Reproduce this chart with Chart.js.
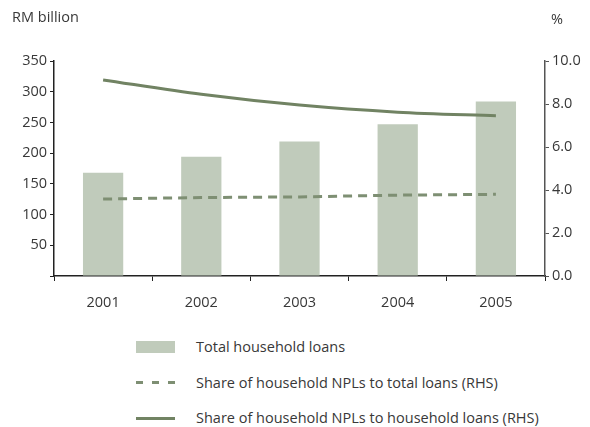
<!DOCTYPE html>
<html>
<head>
<meta charset="utf-8">
<script src="https://cdn.jsdelivr.net/npm/chart.js@4/dist/chart.umd.min.js"></script>
<style>
    body { margin: 0; background: #fff; font-family: 'Open Sans', sans-serif; color: #383838; }
    #wrap { position: relative; width: 590px; height: 427px; }
    #chartBox { position: absolute; left: 0; top: 0; width: 590px; height: 320px; }
    #legend { position: absolute; left: 136px; top: 329px; }
    .row { display: flex; align-items: center; height: 35.5px; font-size: 14.5px; }
    .sw { width: 39px; height: 12px; margin-right: 21px; position: relative; }
</style>
</head>
<body>
<div id="wrap">
    <div id="chartBox"><canvas id="chart"></canvas></div>
    <div id="legend"></div>
</div>
<script>
// Data
const years = ['2001', '2002', '2003', '2004', '2005'];
const householdLoans = [168, 194, 219, 247, 284];          // RM billion
const nplShareTotal = [3.58, 3.65, 3.68, 3.76, 3.80];      // % (RHS)
const nplShareHousehold = [9.12, 8.45, 7.95, 7.62, 7.45];  // % (RHS)

const barColor = '#c0cbbb';
const lineColor = '#718363';
const dashColor = '#7e8f73';
const textColor = '#383838';
const fontFamily = "'Open Sans', sans-serif";

const titlesPlugin = {
    id: 'titles',
    afterDraw(chart) {
        const c = chart.ctx;
        c.save();
        c.fillStyle = textColor;
        c.font = `14.5px ${fontFamily}`;
        c.textBaseline = 'middle';
        c.textAlign = 'left';
        c.fillText('RM billion', 12, 18);
        c.textAlign = 'center';
        c.fillText('%', 557, 20);
        c.restore();
    }
};

const chart = new Chart(document.getElementById('chart'), {
    data: {
        labels: years,
        datasets: [
            {
                type: 'line',
                label: 'Share of household NPLs to household loans (RHS)',
                data: nplShareHousehold,
                yAxisID: 'y1',
                borderColor: lineColor,
                borderWidth: 3,
                tension: 0.3,
                pointRadius: 0,
                order: 1
            },
            {
                type: 'line',
                label: 'Share of household NPLs to total loans (RHS)',
                data: nplShareTotal,
                yAxisID: 'y1',
                borderColor: dashColor,
                borderWidth: 3,
                borderDash: [9, 6],
                pointRadius: 0,
                order: 1
            },
            {
                type: 'bar',
                label: 'Total household loans',
                data: householdLoans,
                yAxisID: 'y',
                backgroundColor: barColor,
                barPercentage: 0.41,
                categoryPercentage: 1,
                order: 2
            }
        ]
    },
    options: {
        responsive: true,
        maintainAspectRatio: false,
        animation: false,
        layout: { padding: { top: 61, left: 0, right: 0, bottom: 0 } },
        plugins: {
            legend: { display: false },
            tooltip: { enabled: false }
        },
        scales: {
            x: {
                offset: true,
                grid: { display: true, drawOnChartArea: false, drawTicks: true, tickLength: 5, color: '#222', offset: true },
                border: { display: true, color: '#222', width: 1.5 },
                ticks: { color: textColor, font: { family: fontFamily, size: 14.5 }, padding: 13 },
                afterFit: (s) => { s.height = 44; }
            },
            y: {
                position: 'left',
                min: 0,
                max: 350,
                grid: { display: true, drawOnChartArea: false, drawTicks: true, tickLength: 4, color: '#222' },
                border: { display: true, color: '#222', width: 1.5 },
                ticks: {
                    stepSize: 50,
                    color: textColor,
                    font: { family: fontFamily, size: 14.5 },
                    padding: 3,
                    callback: (v) => v === 0 ? '' : v
                },
                afterFit: (s) => { s.width = 54; }
            },
            y1: {
                position: 'right',
                min: 0,
                max: 10,
                grid: { display: true, drawOnChartArea: false, drawTicks: true, tickLength: 4, color: '#555' },
                border: { display: true, color: '#555', width: 1.5 },
                ticks: {
                    stepSize: 2,
                    color: textColor,
                    font: { family: fontFamily, size: 14.5 },
                    padding: 3,
                    callback: (v) => v.toFixed(1)
                },
                afterFit: (s) => { s.width = 45; }
            }
        }
    },
    plugins: [titlesPlugin]
});

// HTML legend built from the datasets (bar first, then dashed, then solid)
const legendEl = document.getElementById('legend');
[2, 1, 0].forEach(i => {
    const ds = chart.data.datasets[i];
    const row = document.createElement('div');
    row.className = 'row';
    const sw = document.createElement('div');
    sw.className = 'sw';
    if (ds.type === 'bar') {
        sw.style.background = ds.backgroundColor;
    } else {
        const ln = document.createElement('div');
        ln.style.position = 'absolute';
        ln.style.left = '0';
        ln.style.right = '0';
        ln.style.top = '5px';
        ln.style.height = '3px';
        ln.style.background = ds.borderDash
            ? `repeating-linear-gradient(to right, ${ds.borderColor} 0 7px, transparent 7px 16px)`
            : ds.borderColor;
        sw.appendChild(ln);
    }
    const txt = document.createElement('span');
    txt.textContent = ds.label;
    row.appendChild(sw);
    row.appendChild(txt);
    legendEl.appendChild(row);
});
</script>
</body>
</html>
